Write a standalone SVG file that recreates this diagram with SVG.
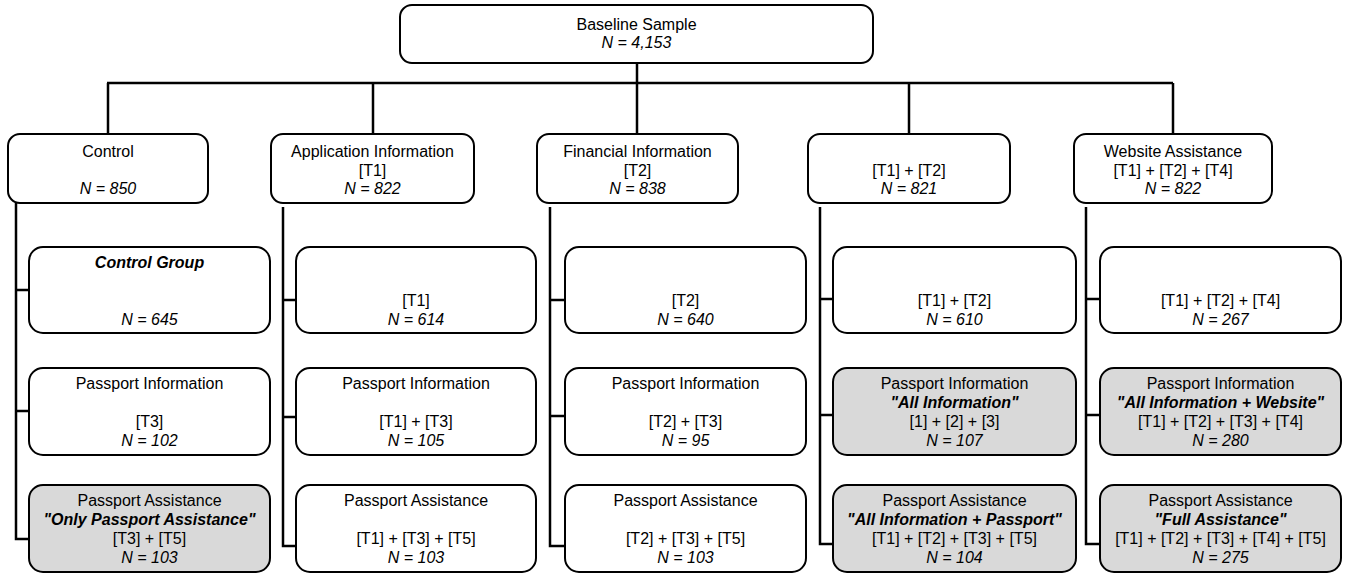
<svg xmlns="http://www.w3.org/2000/svg" width="1347" height="573" viewBox="0 0 1347 573">
<style>
.b{fill:#fff;stroke:#000;stroke-width:2}
.g{fill:#d9d9d9;stroke:#000;stroke-width:2}
text{font-family:"Liberation Sans",Arial,Helvetica,sans-serif;font-size:16px;fill:#000;text-anchor:middle}
.i{font-style:italic}
.bi{font-style:italic;font-weight:bold}
.c{fill:none;stroke:#000;stroke-width:2.5}
</style>
<rect width="1347" height="573" fill="#fff"/>
<g id="connectors">
<path class="c" d="M637 63V83M107 83H1173M108 83V134M373 83V134M637 83V134M909 83V134M1173 83V134"/>
<path class="c" d="M16 202V539H29M16 290H29M16 411H29"/>
<path class="c" d="M283 207V546H296M283 300H296M283 417H296"/>
<path class="c" d="M550 207V546H565M550 300H565M550 416H565"/>
<path class="c" d="M820 207V544H833M820 299H833M820 415H833"/>
<path class="c" d="M1086 207V544H1100M1086 299H1100M1086 415H1100"/>
</g>
<g id="baseline"><rect class="b" x="400" y="5" width="473" height="58" rx="12"/><text x="636.5" y="29.5">Baseline Sample</text><text class="i" x="636.5" y="48">N = 4,153</text></g>
<g id="control"><rect class="b" x="8" y="134" width="200" height="69" rx="12"/><text x="108" y="157">Control</text><text class="i" x="108" y="194">N = 850</text></g>
<g id="application"><rect class="b" x="271" y="134" width="203" height="69" rx="12"/><text x="372.5" y="157">Application Information</text><text x="372.5" y="175.5">[T1]</text><text class="i" x="372.5" y="194">N = 822</text></g>
<g id="financial"><rect class="b" x="537" y="134" width="201" height="69" rx="12"/><text x="637.5" y="157">Financial Information</text><text x="637.5" y="175.5">[T2]</text><text class="i" x="637.5" y="194">N = 838</text></g>
<g id="t1t2"><rect class="b" x="808" y="134" width="202" height="69" rx="12"/><text x="909" y="175.5">[T1] + [T2]</text><text class="i" x="909" y="194">N = 821</text></g>
<g id="website"><rect class="b" x="1074" y="134" width="198" height="69" rx="12"/><text x="1173" y="157">Website Assistance</text><text x="1173" y="175.5">[T1] + [T2] + [T4]</text><text class="i" x="1173" y="194">N = 822</text></g>

<g id="c1r1"><rect class="b" x="29" y="247" width="241" height="86" rx="14"/><text class="bi" x="149.5" y="268">Control Group</text><text class="i" x="149.5" y="325">N = 645</text></g>
<g id="c1r2"><rect class="b" x="29" y="368" width="241" height="87" rx="14"/><text x="149.5" y="389">Passport Information</text><text x="149.5" y="427">[T3]</text><text class="i" x="149.5" y="446">N = 102</text></g>
<g id="c1r3"><rect class="g" x="29" y="485" width="241" height="87" rx="14"/><text x="149.5" y="506">Passport Assistance</text><text class="bi" x="149.5" y="525">"Only Passport Assistance"</text><text x="149.5" y="544">[T3] + [T5]</text><text class="i" x="149.5" y="563">N = 103</text></g>

<g id="c2r1"><rect class="b" x="296" y="247" width="240" height="86" rx="14"/><text x="416" y="306">[T1]</text><text class="i" x="416" y="325">N = 614</text></g>
<g id="c2r2"><rect class="b" x="296" y="368" width="240" height="87" rx="14"/><text x="416" y="389">Passport Information</text><text x="416" y="427">[T1] + [T3]</text><text class="i" x="416" y="446">N = 105</text></g>
<g id="c2r3"><rect class="b" x="296" y="485" width="240" height="87" rx="14"/><text x="416" y="506">Passport Assistance</text><text x="416" y="544">[T1] + [T3] + [T5]</text><text class="i" x="416" y="563">N = 103</text></g>

<g id="c3r1"><rect class="b" x="565" y="247" width="241" height="86" rx="14"/><text x="685.5" y="306">[T2]</text><text class="i" x="685.5" y="325">N = 640</text></g>
<g id="c3r2"><rect class="b" x="565" y="368" width="241" height="87" rx="14"/><text x="685.5" y="389">Passport Information</text><text x="685.5" y="427">[T2] + [T3]</text><text class="i" x="685.5" y="446">N = 95</text></g>
<g id="c3r3"><rect class="b" x="565" y="485" width="241" height="87" rx="14"/><text x="685.5" y="506">Passport Assistance</text><text x="685.5" y="544">[T2] + [T3] + [T5]</text><text class="i" x="685.5" y="563">N = 103</text></g>

<g id="c4r1"><rect class="b" x="833" y="247" width="243" height="86" rx="14"/><text x="954.5" y="306">[T1] + [T2]</text><text class="i" x="954.5" y="325">N = 610</text></g>
<g id="c4r2"><rect class="g" x="833" y="368" width="243" height="87" rx="14"/><text x="954.5" y="389">Passport Information</text><text class="bi" x="954.5" y="408">"All Information"</text><text x="954.5" y="427">[1] + [2] + [3]</text><text class="i" x="954.5" y="446">N = 107</text></g>
<g id="c4r3"><rect class="g" x="833" y="485" width="243" height="87" rx="14"/><text x="954.5" y="506">Passport Assistance</text><text class="bi" x="954.5" y="525">"All Information + Passport"</text><text x="954.5" y="544">[T1] + [T2] + [T3] + [T5]</text><text class="i" x="954.5" y="563">N = 104</text></g>

<g id="c5r1"><rect class="b" x="1100" y="247" width="241" height="86" rx="14"/><text x="1220.5" y="306">[T1] + [T2] + [T4]</text><text class="i" x="1220.5" y="325">N = 267</text></g>
<g id="c5r2"><rect class="g" x="1100" y="368" width="241" height="87" rx="14"/><text x="1220.5" y="389">Passport Information</text><text class="bi" x="1220.5" y="408">"All Information + Website"</text><text x="1220.5" y="427">[T1] + [T2] + [T3] + [T4]</text><text class="i" x="1220.5" y="446">N = 280</text></g>
<g id="c5r3"><rect class="g" x="1100" y="485" width="241" height="87" rx="14"/><text x="1220.5" y="506">Passport Assistance</text><text class="bi" x="1220.5" y="525">"Full Assistance"</text><text x="1220.5" y="544">[T1] + [T2] + [T3] + [T4] + [T5]</text><text class="i" x="1220.5" y="563">N = 275</text></g>
</svg>
